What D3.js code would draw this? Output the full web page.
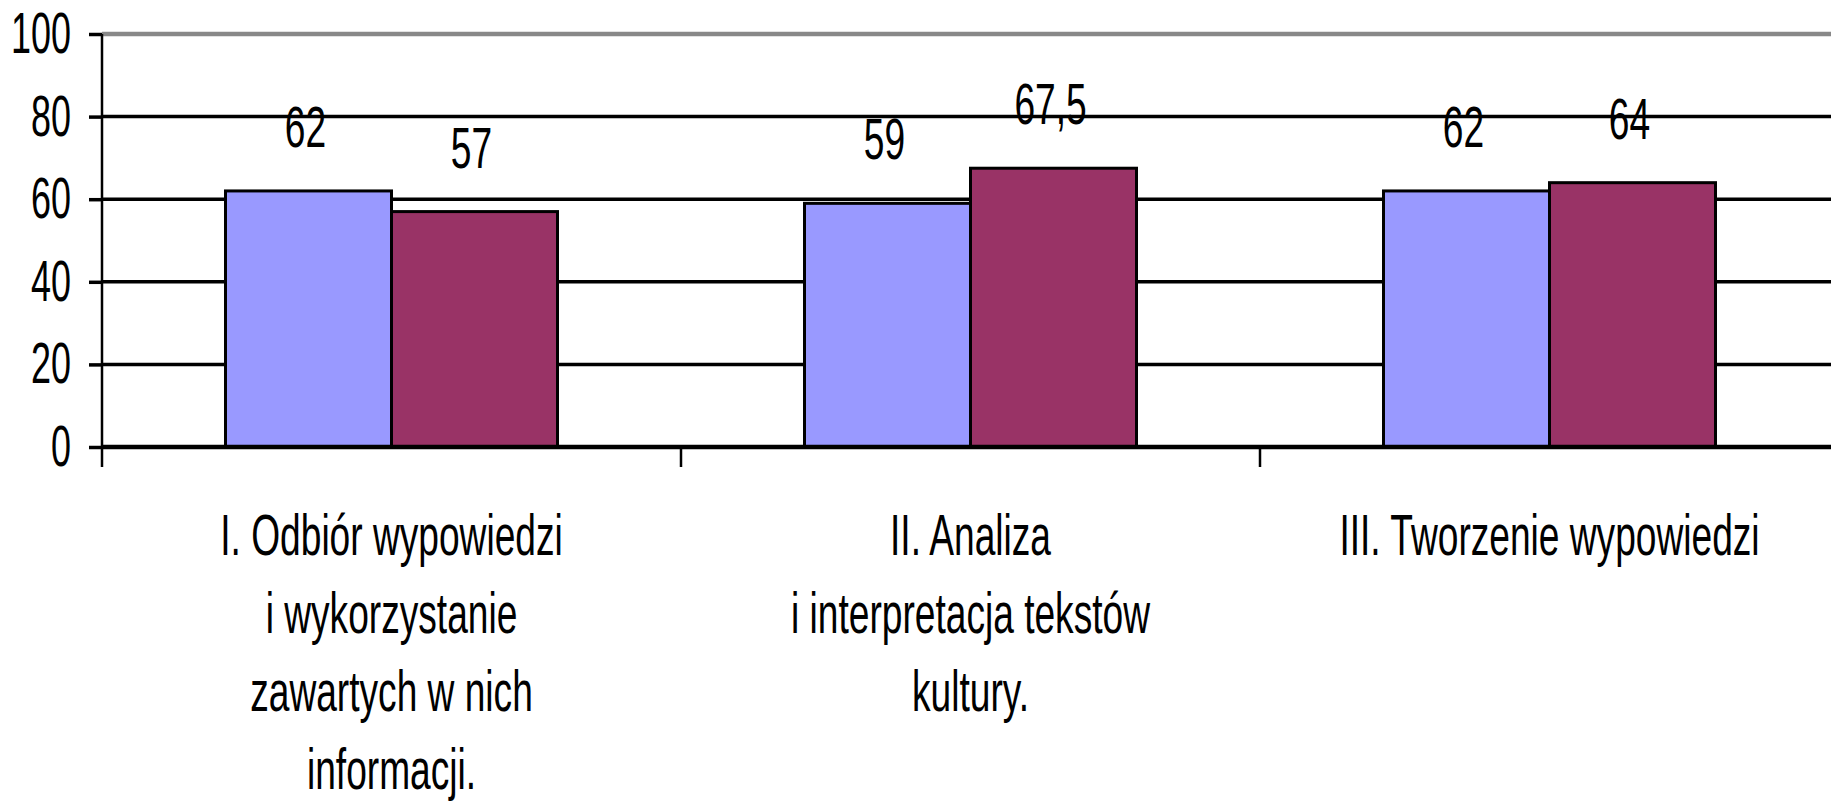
<!DOCTYPE html>
<html>
<head>
<meta charset="utf-8">
<script src="https://cdn.jsdelivr.net/npm/d3@7"></script>
<style>
  html, body { margin: 0; padding: 0; background: #fff; }
  svg { display: block; }
  text { font-family: "Liberation Sans", Arial, sans-serif; fill: #000; }
</style>
</head>
<body>
<svg id="chart"></svg>
<script>
// categories (already broken in lines like in the original)
var categories = [
    ["I. Odbiór wypowiedzi", "i wykorzystanie", "zawartych w nich", "informacji."],
    ["II. Analiza", "i interpretacja tekstów", "kultury."],
    ["III. Tworzenie wypowiedzi"]
];
var seriesNames = ["Seria 1", "Seria 2"];
var series1 = [62, 59, 62];
var series2 = [57, 67.5, 64];
var yTicks = [0, 20, 40, 60, 80, 100];
var colors = ["#9999ff", "#993366"];

var W = 1831, H = 802;
var squeeze = 0.64;     // the font in the picture is a narrow one
var squeezeTick = 0.62;

var svg = d3.select("#chart").attr("width", W).attr("height", H);

var catKeys = categories.map(c => c.join(" "));
var x = d3.scaleBand()
    .domain(catKeys)
    .range([102, 1839])
    .paddingInner(0)
    .paddingOuter(0);

var xs = d3.scaleBand()
    .domain(seriesNames)
    .range([0, x.bandwidth()])
    .paddingInner(0)
    .paddingOuter(0.744);

var y = d3.scaleLinear()
    .domain([0, 100])
    .range([447, 34]);

// gridlines
svg.append("g")
    .selectAll("line")
    .data(yTicks)
    .enter()
    .append("line")
    .attr("x1", 102)
    .attr("x2", W)
    .attr("y1", d => y(d))
    .attr("y2", d => y(d))
    .style("stroke", d => d == 100 ? "#888" : "#000")
    .style("stroke-width", d => d == 100 ? 4.5 : 3.5);

// bars
var rows = catKeys.map((k, i) => ({ key: k, values: [series1[i], series2[i]] }));
var groups = svg.append("g")
    .selectAll("g")
    .data(rows)
    .enter()
    .append("g")
    .attr("transform", d => "translate(" + x(d.key) + ",0)");

groups.selectAll("rect")
    .data(d => d.values.map((v, j) => ({ name: seriesNames[j], value: v, idx: j })))
    .enter()
    .append("rect")
    .attr("x", d => xs(d.name))
    .attr("y", d => y(d.value))
    .attr("width", xs.bandwidth())
    .attr("height", d => y(0) - y(d.value))
    .style("fill", d => colors[d.idx])
    .style("stroke", "#000")
    .style("stroke-width", 3);

// value labels
groups.selectAll("text")
    .data(d => d.values.map((v, j) => ({ name: seriesNames[j], value: v })))
    .enter()
    .append("text")
    .attr("transform", d => "translate(" + (xs(d.name) + xs.bandwidth() / 2 - 3) + "," + (y(d.value) - 44) + ") scale(" + squeeze + ",1)")
    .attr("text-anchor", "middle")
    .style("font-size", "58px")
    .text(d => String(d.value).replace(".", ","));

// zero line on top of the bars
svg.append("line")
    .attr("x1", 102).attr("x2", W)
    .attr("y1", y(0)).attr("y2", y(0))
    .style("stroke", "#000")
    .style("stroke-width", 4.5);

// y axis
var yAxis = d3.axisLeft(y)
    .tickValues(yTicks)
    .tickSize(13)
    .tickSizeOuter(0);

var gy = svg.append("g")
    .attr("transform", "translate(102,0)")
    .call(yAxis);
gy.select(".domain").remove();
gy.selectAll(".tick line").style("stroke", "#000").style("stroke-width", 3.5);
gy.selectAll(".tick text")
    .attr("x", -31 / squeezeTick)
    .attr("transform", "scale(" + squeezeTick + ",1)")
    .style("font-size", "58px")
    .style("font-family", "'Liberation Sans', Arial, sans-serif");

// vertical axis line going a bit below zero
svg.append("line")
    .attr("x1", 102).attr("x2", 102)
    .attr("y1", y(100)).attr("y2", 467)
    .style("stroke", "#000")
    .style("stroke-width", 2.5);

// category separators below the axis
svg.append("g")
    .selectAll("line")
    .data(catKeys.slice(1))
    .enter()
    .append("line")
    .attr("x1", d => x(d)).attr("x2", d => x(d))
    .attr("y1", y(0)).attr("y2", 467)
    .style("stroke", "#000")
    .style("stroke-width", 2.5);

// category labels
var catLabels = svg.append("g")
    .selectAll("g")
    .data(categories)
    .enter()
    .append("g")
    .attr("transform", (d, i) => "translate(" + (x(catKeys[i]) + x.bandwidth() / 2) + ",555) scale(" + squeeze + ",1)");

catLabels.selectAll("text")
    .data(d => d)
    .enter()
    .append("text")
    .attr("y", (d, i) => i * 78)
    .attr("text-anchor", "middle")
    .style("font-size", "58px")
    .text(d => d);
</script>
</body>
</html>
